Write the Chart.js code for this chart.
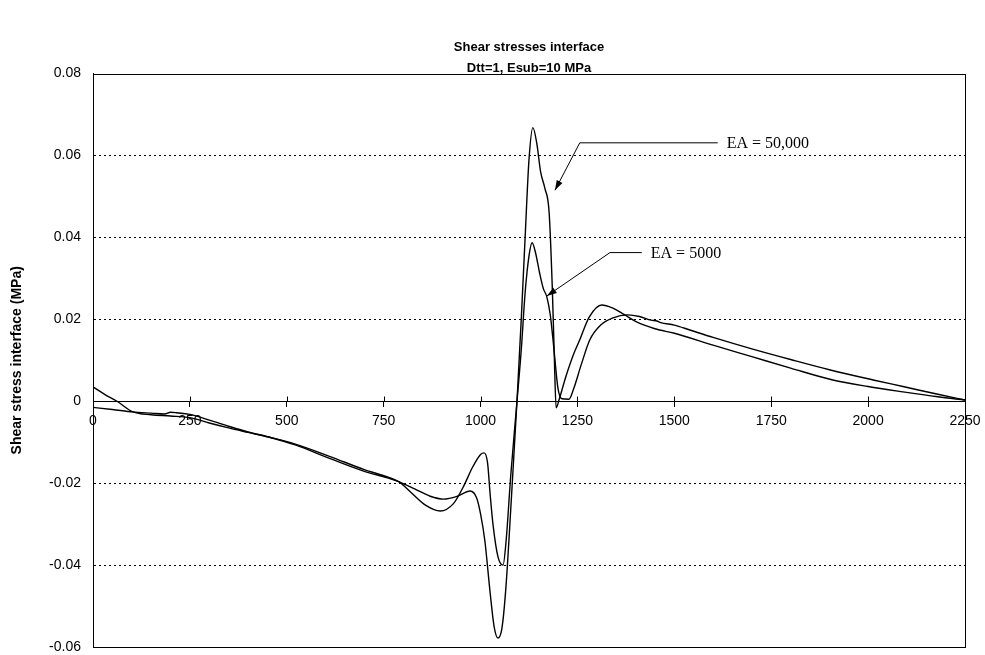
<!DOCTYPE html>
<html>
<head>
<meta charset="utf-8">
<title>Shear stresses interface</title>
<script src="https://cdn.jsdelivr.net/npm/chart.js@4.4.1/dist/chart.umd.min.js"></script>
<style>
  html, body { margin: 0; padding: 0; background: #ffffff; }
  #c { display: block; }
</style>
</head>
<body>
<canvas id="c" width="985" height="655"></canvas>
<script>
// Distance along the interface and interface shear stress (MPa), EA = 50,000
const positionsEA50000 = [0, 50, 103, 150, 185, 200, 215, 250, 300, 350, 400, 460, 520, 612, 700, 760, 790, 830, 870, 905, 940, 973, 990, 1000, 1011, 1025, 1035, 1045, 1055, 1065, 1080, 1094, 1105, 1115, 1125, 1135, 1145, 1155, 1166, 1177, 1185, 1190, 1195, 1203, 1220, 1240, 1256, 1280, 1313, 1340, 1370, 1400, 1450, 1500, 1600, 1700, 1800, 1909, 2000, 2090, 2180, 2250];
const shearEA50000 = [-0.0015, -0.0020, -0.0026, -0.0029, -0.0031, -0.0027, -0.0028, -0.0032, -0.0046, -0.0061, -0.0075, -0.0089, -0.0106, -0.0140, -0.0171, -0.0187, -0.0197, -0.0214, -0.0232, -0.0239, -0.0232, -0.0219, -0.0236, -0.0275, -0.0340, -0.0470, -0.0550, -0.0578, -0.0555, -0.0460, -0.0230, 0.0000, 0.0200, 0.0400, 0.0590, 0.0668, 0.0630, 0.0560, 0.0520, 0.0460, 0.0280, 0.0120, -0.0016, 0.0005, 0.0060, 0.0115, 0.0150, 0.0205, 0.0235, 0.0228, 0.0212, 0.0195, 0.0177, 0.0166, 0.0137, 0.0109, 0.0081, 0.0052, 0.0036, 0.0023, 0.0011, 0.0003];

// Distance along the interface and interface shear stress (MPa), EA = 5000
const positionsEA5000 = [0, 30, 62, 103, 150, 200, 250, 300, 350, 400, 460, 520, 612, 700, 760, 790, 820, 860, 896, 930, 955, 980, 1000, 1009, 1018, 1025, 1032, 1045, 1058, 1066, 1078, 1094, 1105, 1115, 1125, 1133, 1142, 1152, 1162, 1171, 1180, 1187, 1200, 1210, 1228, 1240, 1260, 1282, 1310, 1340, 1380, 1410, 1440, 1455, 1465, 1500, 1540, 1600, 1700, 1800, 1900, 2013, 2090, 2180, 2250];
const shearEA5000 = [0.0035, 0.0017, 0.0000, -0.0026, -0.0033, -0.0036, -0.0040, -0.0053, -0.0065, -0.0076, -0.0089, -0.0104, -0.0135, -0.0167, -0.0185, -0.0197, -0.0222, -0.0255, -0.0268, -0.0250, -0.0210, -0.0160, -0.0130, -0.0126, -0.0150, -0.0230, -0.0300, -0.0380, -0.0400, -0.0340, -0.0180, 0.0000, 0.0125, 0.0265, 0.0355, 0.0387, 0.0362, 0.0315, 0.0275, 0.0255, 0.0210, 0.0150, 0.0030, 0.0006, 0.0005, 0.0030, 0.0090, 0.0150, 0.0186, 0.0203, 0.0211, 0.0207, 0.0198, 0.0196, 0.0192, 0.0186, 0.0174, 0.0156, 0.0128, 0.0102, 0.0077, 0.0052, 0.0036, 0.0017, 0.0003];

// Axis ranges and tick spacing
const xRange = [0, 2250];
const xStep = 250;
const yRange = [-0.06, 0.08];
const yStep = 0.02;

// Callouts: label text, arrow tip, elbow and end of the leader line (data units)
const calloutLabels = ['EA = 50,000', 'EA = 5000'];
const calloutTips = [[1192, 0.0515], [1171, 0.0257]];
const calloutElbows = [[1256, 0.0631], [1334, 0.0363]];
const calloutEnds = [[1612, 0.0631], [1416, 0.0363]];

const toPoints = (xs, ys) => xs.map((x, i) => ({ x: x, y: ys[i] }));
const sans = '"Liberation Sans", Arial, sans-serif';

// Plot frame plus the upper half of the x tick marks crossing the zero line
const framePlugin = {
  id: 'frame',
  afterDraw(chart) {
    const { ctx, chartArea: a, scales } = chart;
    ctx.save();
    ctx.strokeStyle = '#000';
    ctx.lineWidth = 1;
    ctx.strokeRect(Math.round(a.left) + 0.5, Math.round(a.top) + 0.5,
                   Math.round(a.right - a.left), Math.round(a.bottom - a.top));
    const y0 = Math.round(scales.y.getPixelForValue(0)) + 0.5;
    ctx.beginPath();
    scales.x.ticks.forEach(t => {
      const px = Math.round(scales.x.getPixelForValue(t.value)) + 0.5;
      ctx.moveTo(px, y0 - 5);
      ctx.lineTo(px, y0);
    });
    ctx.stroke();
    ctx.restore();
  }
};

// Leader lines with arrowheads and their labels
const calloutPlugin = {
  id: 'callouts',
  afterDatasetsDraw(chart) {
    const { ctx, scales: { x, y } } = chart;
    ctx.save();
    ctx.strokeStyle = '#000';
    ctx.fillStyle = '#000';
    ctx.lineWidth = 1;
    calloutLabels.forEach((label, i) => {
      const tx = x.getPixelForValue(calloutTips[i][0]), ty = y.getPixelForValue(calloutTips[i][1]);
      const ex = x.getPixelForValue(calloutElbows[i][0]), ey = y.getPixelForValue(calloutElbows[i][1]);
      const nx = x.getPixelForValue(calloutEnds[i][0]), ny = y.getPixelForValue(calloutEnds[i][1]);
      ctx.beginPath();
      ctx.moveTo(nx, ny);
      ctx.lineTo(ex, ey);
      ctx.lineTo(tx, ty);
      ctx.stroke();
      const ang = Math.atan2(ty - ey, tx - ex);
      const len = 10, half = 3.2;
      const bx = tx - len * Math.cos(ang), by = ty - len * Math.sin(ang);
      ctx.beginPath();
      ctx.moveTo(tx, ty);
      ctx.lineTo(bx + half * Math.sin(ang), by - half * Math.cos(ang));
      ctx.lineTo(bx - half * Math.sin(ang), by + half * Math.cos(ang));
      ctx.closePath();
      ctx.fill();
      ctx.font = '16px "Liberation Serif", "Times New Roman", serif';
      ctx.textAlign = 'left';
      ctx.textBaseline = 'middle';
      ctx.fillText(label, nx + 9, ny + 1);
    });
    ctx.restore();
  }
};

const lineStyle = {
  borderColor: '#000',
  borderWidth: 1.4,
  pointRadius: 0,
  fill: false,
  cubicInterpolationMode: 'monotone'
};

new Chart(document.getElementById('c'), {
  type: 'line',
  data: {
    datasets: [
      Object.assign({ label: 'EA = 50,000', data: toPoints(positionsEA50000, shearEA50000) }, lineStyle),
      Object.assign({ label: 'EA = 5000', data: toPoints(positionsEA5000, shearEA5000) }, lineStyle)
    ]
  },
  options: {
    responsive: false,
    animation: false,
    devicePixelRatio: 1,
    layout: { padding: { left: 0, right: 20, top: 0, bottom: 8 } },
    plugins: {
      legend: { display: false },
      tooltip: { enabled: false },
      title: {
        display: true,
        fullSize: false,
        text: ['Shear stresses interface', 'Dtt=1, Esub=10 MPa'],
        color: '#000',
        font: { family: sans, size: 13, weight: 'bold', lineHeight: 1.6 },
        padding: { top: 37, bottom: -5 }
      }
    },
    scales: {
      x: {
        type: 'linear',
        position: { y: 0 },
        min: xRange[0],
        max: xRange[1],
        afterFit(scale) { scale.paddingLeft = 0; scale.paddingRight = 0; },
        ticks: {
          stepSize: xStep,
          color: '#000',
          padding: 6,
          maxRotation: 0,
          autoSkip: false,
          font: { family: sans, size: 14 },
          callback: v => String(v)
        },
        grid: { drawOnChartArea: false, drawTicks: true, tickLength: 5, tickColor: '#000', tickWidth: 1 },
        border: { display: true, color: '#000', width: 1 }
      },
      y: {
        type: 'linear',
        position: 'left',
        min: yRange[0],
        max: yRange[1],
        afterFit(scale) { scale.width = 93; scale.paddingTop = 0; scale.paddingBottom = 0; },
        ticks: {
          stepSize: yStep,
          color: '#000',
          padding: 12,
          font: { family: sans, size: 14 },
          callback: v => {
            const r = Math.round(v * 100) / 100;
            return r === 0 ? '0' : r.toFixed(2);
          }
        },
        grid: {
          drawTicks: false,
          lineWidth: 1,
          color: ctx => {
            const v = Math.round(ctx.tick.value * 100) / 100;
            return (v === 0 || v === yRange[0] || v === yRange[1]) ? 'rgba(0,0,0,0)' : '#000';
          }
        },
        border: { display: true, color: '#000', width: 1, dash: [2, 3] },
        title: {
          display: true,
          text: 'Shear stress interface (MPa)',
          color: '#000',
          font: { family: sans, size: 14, weight: 'bold' },
          padding: { top: 9, bottom: 0 }
        }
      }
    }
  },
  plugins: [framePlugin, calloutPlugin]
});
</script>
</body>
</html>
